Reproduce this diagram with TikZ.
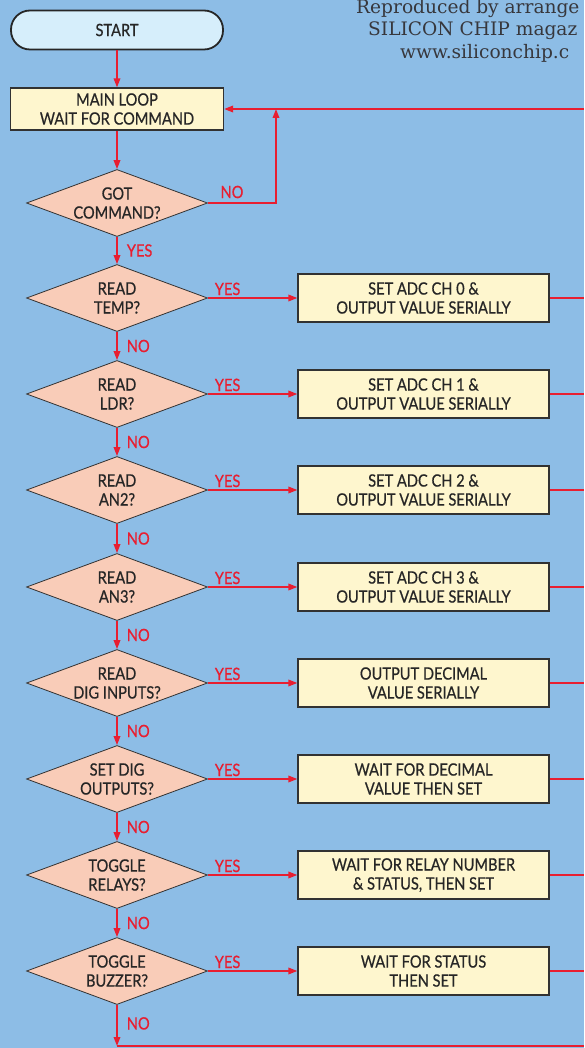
\documentclass[tikz,border=0pt]{standalone}
\usepackage{fontspec}
\setmainfont{Lato}
\newfontfamily\labfont[FakeStretch=0.86,FakeBold=0.6]{Lato}
\newfontfamily\hdrfont{DejaVu Serif}
\usetikzlibrary{shapes.geometric,arrows.meta}
\definecolor{bgblue}{RGB}{141,189,230}
\definecolor{flowred}{RGB}{232,30,48}
\definecolor{peach}{RGB}{249,204,184}
\definecolor{cream}{RGB}{254,246,206}
\definecolor{startfill}{RGB}{214,238,251}
\definecolor{edgegray}{RGB}{50,50,50}
\definecolor{hdrgray}{RGB}{55,55,60}
\tikzset{
  flowline/.style={draw=flowred, line width=1.7pt},
  flowarrow/.style={flowline, -{Triangle[length=9pt,width=6.5pt]}},
  txt/.style={font=\labfont\fontsize{17}{19}\selectfont, text=black!85, align=center, inner sep=0pt},
  decision/.style={diamond, draw=edgegray, line width=0.8pt, fill=peach,
    minimum width=181pt, minimum height=67pt, inner sep=0pt},
  process/.style={rectangle, draw=edgegray, line width=1.2pt, fill=cream,
    minimum width=251pt, minimum height=48pt, inner sep=0pt, txt},
  terminal/.style={rectangle, rounded corners=19pt, draw=black!85, line width=1.8pt,
    fill=startfill, minimum width=212pt, minimum height=39pt, inner sep=0pt, txt},
  branch/.style={font=\labfont\fontsize{17}{18}\selectfont, text=flowred, inner sep=1pt},
  header/.style={font=\hdrfont\fontsize{18.6}{22}\selectfont, text=hdrgray, anchor=west, inner sep=0pt}
}
\begin{document}
\begin{tikzpicture}[x=1pt,y=-1pt]
\useasboundingbox (0,0) rectangle (584,1048);
\clip (0,0) rectangle (584,1048);
\fill[bgblue] (0,0) rectangle (584,1048);

% header text (truncated at the right edge, as in the original)
\node[header] (h1) at (356,9) {Reproduced by arrange};
\node[header] (h2) at (368,31) {SILICON CHIP magaz};
\node[header] (h3) at (400,53) {www.siliconchip.c};

% nodes
\node[terminal] (start) at (117,30) {START};
\node[process, minimum width=213pt, minimum height=42pt] (main) at (117,109) {MAIN LOOP\\WAIT FOR COMMAND};
\node[decision] (got) at (117,203) {};
\node[txt] (gott) at (got) {GOT\\COMMAND?};

\foreach \n/\y/\t in {1/298/{READ\\TEMP?},2/394/{READ\\LDR?},3/490/{READ\\AN2?},4/587/{READ\\AN3?},
  5/683/{READ\\DIG INPUTS?},6/779/{SET DIG\\OUTPUTS?},7/875/{TOGGLE\\RELAYS?},8/971/{TOGGLE\\BUZZER?}}{
  \node[decision] (d\n) at (117,\y) {};
  \node[txt] (d\n t) at (d\n) {\t};
}

\node[process] (b1) at (423.5,298) {SET ADC CH 0 \&\\OUTPUT VALUE SERIALLY};
\node[process] (b2) at (423.5,394) {SET ADC CH 1 \&\\OUTPUT VALUE SERIALLY};
\node[process] (b3) at (423.5,490) {SET ADC CH 2 \&\\OUTPUT VALUE SERIALLY};
\node[process] (b4) at (423.5,587) {SET ADC CH 3 \&\\OUTPUT VALUE SERIALLY};
\node[process] (b5) at (423.5,683) {OUTPUT DECIMAL\\VALUE SERIALLY};
\node[process] (b6) at (423.5,779) {WAIT FOR DECIMAL\\VALUE THEN SET};
\node[process] (b7) at (423.5,875) {WAIT FOR RELAY NUMBER\\\& STATUS, THEN SET};
\node[process] (b8) at (423.5,971) {WAIT FOR STATUS\\THEN SET};

% free ends and junctions
\coordinate (loopj) at (276,109);
\coordinate (rin) at (584,109);
\coordinate (redge) at (584,0);
\coordinate (botj) at (117,1046);
\coordinate (botr) at (584,1046);

% connectors
\draw[flowarrow] (start) -- (main);
\draw[flowarrow] (main) -- (got);
\draw[flowarrow] (got.east) -| (loopj);
\node[branch] (lno) at (232,192) {NO};
\draw[flowarrow] (rin) -- (main.east);
\draw[flowarrow] (got.south) -- (d1.north) node[branch, midway, right=8pt] (lyes0) {YES};

\foreach \i in {1,...,8}{
  \draw[flowarrow] (d\i.east) -- (b\i.west) node[branch, pos=0.22, above=1pt] {YES};
  \draw[flowline] (b\i.east) -- (b\i.east -| redge);
}
\foreach \i/\j in {1/2,2/3,3/4,4/5,5/6,6/7,7/8}{
  \draw[flowarrow] (d\i.south) -- (d\j.north) node[branch, midway, right=8pt] {NO};
}
\draw[flowarrow] (d8.south) -- (botj) node[branch, pos=0.45, right=8pt] {NO};
\draw[flowline] (botj) -- (botr);
\end{tikzpicture}
\end{document}
